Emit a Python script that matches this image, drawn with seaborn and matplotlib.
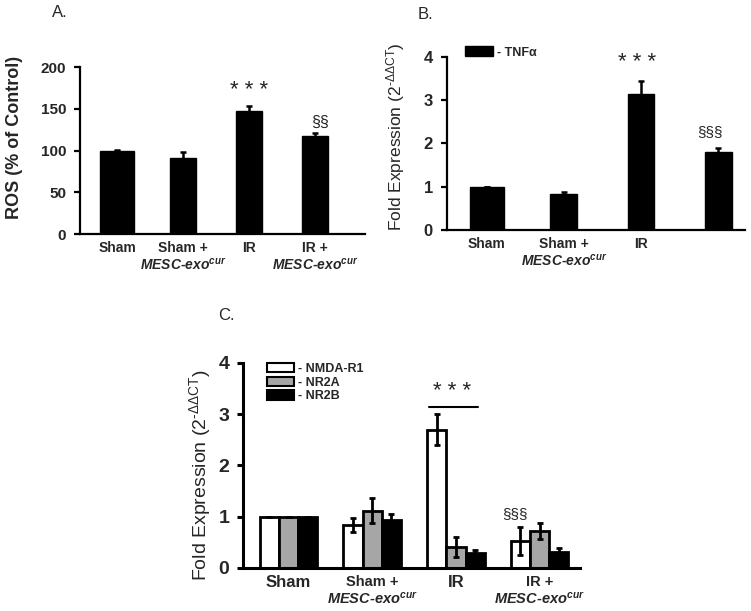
import numpy as np
import pandas as pd
import seaborn as sns
import matplotlib.pyplot as plt
from matplotlib.patches import Patch

sns.set_style("ticks")
plt.rcParams["font.family"] = ["Liberation Sans", "DejaVu Sans"]
plt.rcParams["mathtext.fontset"] = "custom"
plt.rcParams["mathtext.rm"] = "Liberation Sans"
plt.rcParams["mathtext.it"] = "Liberation Sans:italic"
plt.rcParams["mathtext.bf"] = "Liberation Sans:italic:bold"

# data
groups = ["Sham", "Sham + MESC-exo", "IR", "IR + MESC-exo"]
mesc = r"$\mathbf{MESC‐exo^{cur}}$"
tick_labels_a = ["Sham", "Sham +\n" + mesc, "IR", "IR +\n" + mesc]
tick_labels_b = ["Sham", "Sham +\n" + mesc, "IR", ""]

ros_mean = [100, 91, 147, 117]
ros_err = [1, 7, 7, 4]

tnf_mean = [1.0, 0.82, 3.14, 1.80]
tnf_err = [0.0, 0.06, 0.29, 0.10]

receptors = ["NMDA-R1", "NR2A", "NR2B"]
nmda_r1_mean = [1.0, 0.84, 2.70, 0.53]
nmda_r1_err = [0.0, 0.14, 0.31, 0.27]
nr2a_mean = [1.0, 1.12, 0.41, 0.72]
nr2a_err = [0.0, 0.25, 0.19, 0.15]
nr2b_mean = [1.0, 0.93, 0.30, 0.32]
nr2b_err = [0.0, 0.12, 0.06, 0.07]
receptor_colors = ["white", "#a6a6a6", "black"]

fold_label = "Fold Expression (2$^{\\mathrm{‐ΔΔCT}}$)"
legend_font = {"size": 9, "weight": "bold"}


def style_axis(ax, lw, ysize):
    sns.despine(ax=ax)
    for side in ["left", "bottom"]:
        ax.spines[side].set_linewidth(lw)
        ax.spines[side].set_color("black")
    ax.tick_params(axis="y", length=4, width=lw, color="black", pad=6,
                   labelsize=ysize)
    ax.tick_params(axis="x", length=0, pad=5)
    for t in ax.get_yticklabels():
        t.set_fontweight("bold")
    ax.set_xlabel("")


def add_errors(ax, container, means, errs, lw):
    xs = [b.get_x() + b.get_width() / 2 for b in container]
    ax.errorbar(xs, means, yerr=errs, fmt="none", ecolor="black",
                elinewidth=lw, capsize=2.5, capthick=lw, zorder=5)


def widen_first(container, w):
    # the Sham bar is drawn a bit wider in the original
    bar = container[0]
    c = bar.get_x() + bar.get_width() / 2
    bar.set_width(w)
    bar.set_x(c - w / 2)


fig = plt.figure(figsize=(7.51, 6.11), dpi=100)

# |%%--%%| panel A
ax_a = fig.add_axes([0.1065, 0.617, 0.380, 0.273])
sns.barplot(x=groups, y=ros_mean, color="black", edgecolor="black",
            width=0.40, ax=ax_a)
add_errors(ax_a, ax_a.containers[0], ros_mean, ros_err, 1.8)
widen_first(ax_a.containers[0], 0.52)
ax_a.set_ylim(0, 200)
ax_a.set_yticks([0, 50, 100, 150, 200])
ax_a.set_xlim(-0.56, 3.76)
style_axis(ax_a, 1.6, 11)
ax_a.set_xticks(range(4))
ax_a.set_xticklabels(tick_labels_a, fontsize=10, fontweight="bold")
ax_a.set_ylabel("ROS (% of Control)", fontsize=13, fontweight="bold")
ax_a.yaxis.set_label_coords(-0.20, 0.58)
ax_a.text(2, 172, "* * *", ha="center", va="center", fontsize=16)
ax_a.text(3.07, 134, "§§", ha="center", va="center", fontsize=11.5)

# |%%--%%| panel B
ax_b = fig.add_axes([0.595, 0.624, 0.397, 0.283])
sns.barplot(x=groups, y=tnf_mean, color="black", edgecolor="black",
            width=0.35, ax=ax_b)
add_errors(ax_b, ax_b.containers[0], tnf_mean, tnf_err, 1.8)
widen_first(ax_b.containers[0], 0.44)
ax_b.set_ylim(0, 4)
ax_b.set_yticks([0, 1, 2, 3, 4])
ax_b.set_xlim(-0.52, 3.35)
style_axis(ax_b, 1.6, 12)
ax_b.set_xticks(range(4))
ax_b.set_xticklabels(tick_labels_b, fontsize=10, fontweight="bold")
ax_b.set_ylabel(fold_label, fontsize=12.5)
ax_b.yaxis.set_label_coords(-0.135, 0.54)
ax_b.text(1.95, 3.86, "* * *", ha="center", va="center", fontsize=16)
ax_b.text(2.9, 2.27, "§§§", ha="center", va="center", fontsize=11)
ax_b.legend(handles=[Patch(facecolor="black", edgecolor="black")],
            labels=["- TNFα"], loc="upper left", bbox_to_anchor=(0.06, 1.06),
            frameon=False, prop=legend_font, handlelength=2.3,
            handleheight=0.8, handletextpad=0.25, borderpad=0,
            borderaxespad=0)

# |%%--%%| panel C
df_c = pd.DataFrame({
    "group": groups * 3,
    "receptor": np.repeat(receptors, 4),
    "value": nmda_r1_mean + nr2a_mean + nr2b_mean,
})
ax_c = fig.add_axes([0.324, 0.0704, 0.448, 0.3356])
sns.barplot(data=df_c, x="group", y="value", hue="receptor",
            palette=receptor_colors, edgecolor="black", linewidth=2,
            width=0.69, gap=0, legend=False, ax=ax_c)
for cont, m, e in zip(ax_c.containers,
                      [nmda_r1_mean, nr2a_mean, nr2b_mean],
                      [nmda_r1_err, nr2a_err, nr2b_err]):
    add_errors(ax_c, cont, m, e, 2)
ax_c.set_ylim(0, 4)
ax_c.set_yticks([0, 1, 2, 3, 4])
ax_c.set_xlim(-0.54, 3.48)
style_axis(ax_c, 2.2, 14)
ax_c.set_xticks(range(4))
ax_c.set_xticklabels(tick_labels_a, fontsize=10.5, fontweight="bold")
for t in ax_c.get_xticklabels():
    if "\n" not in t.get_text():
        t.set_fontsize(12)
ax_c.set_ylabel(fold_label, fontsize=14)
ax_c.yaxis.set_label_coords(-0.09, 0.45)
ax_c.text(1.96, 3.44, "* * *", ha="center", va="center", fontsize=16)
ax_c.plot([1.68, 2.26], [3.15, 3.15], color="black", lw=1.5)
ax_c.text(2.70, 1.05, "§§§", ha="center", va="center", fontsize=11)
ax_c.legend(handles=[Patch(facecolor=c, edgecolor="black", linewidth=1.5)
                     for c in receptor_colors],
            labels=["- " + r for r in receptors], loc="upper left",
            bbox_to_anchor=(0.07, 1.0), frameon=False, prop=legend_font,
            handlelength=2.2, handleheight=0.8, handletextpad=0.3,
            labelspacing=0.12, borderpad=0, borderaxespad=0)

fig.text(0.069, 0.979, "A.", fontsize=12, va="center")
fig.text(0.556, 0.976, "B.", fontsize=12, va="center")
fig.text(0.290, 0.484, "C.", fontsize=12, va="center")

fig.savefig("out.png", dpi=100, facecolor="white")
